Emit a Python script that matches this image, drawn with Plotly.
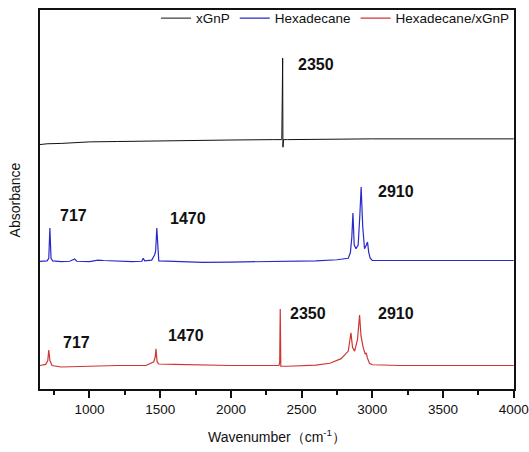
import plotly.graph_objects as go

# ---- data ----
xgnp_wn = [650, 700, 800, 900, 1000, 1200, 1500, 2000, 2300, 2360, 2366, 2368, 2372, 2400, 3000, 4000]
xgnp_ab = [0.645, 0.647, 0.648, 0.650, 0.652, 0.653, 0.655, 0.657, 0.658, 0.658, 0.873, 0.638, 0.658, 0.658, 0.660, 0.660]

hexa_wn = [650, 700, 712, 720, 728, 740, 800, 860, 895, 910, 1000, 1060, 1100, 1200, 1300, 1370, 1380, 1390,
           1440, 1462, 1468, 1476, 1482, 1490, 1600, 1700, 1800, 2000, 2200, 2400, 2600, 2750, 2830, 2845,
           2855, 2863, 2872, 2885, 2900, 2912, 2921, 2932, 2945, 2958, 2966, 2975, 2985, 3000, 3300, 3600, 4000]
hexa_ab = [0.337, 0.338, 0.345, 0.425, 0.345, 0.338, 0.336, 0.337, 0.343, 0.337, 0.336, 0.340, 0.339, 0.337,
           0.336, 0.337, 0.345, 0.338, 0.340, 0.355, 0.365, 0.425, 0.370, 0.338, 0.337, 0.336, 0.334, 0.335,
           0.336, 0.337, 0.338, 0.341, 0.345, 0.360, 0.400, 0.464, 0.380, 0.370, 0.380, 0.460, 0.533, 0.430,
           0.370, 0.380, 0.388, 0.360, 0.345, 0.339, 0.339, 0.338, 0.339]

mix_wn = [650, 690, 705, 712, 720, 735, 800, 1000, 1200, 1400, 1455, 1465, 1470, 1478, 1490, 1600, 1800,
          2000, 2200, 2340, 2345, 2349, 2353, 2400, 2600, 2700, 2780, 2830, 2849, 2860, 2875, 2895, 2910,
          2920, 2935, 2950, 2957, 2965, 2980, 3000, 3200, 4000]
mix_ab = [0.062, 0.065, 0.075, 0.103, 0.075, 0.062, 0.058, 0.060, 0.062, 0.062, 0.072, 0.085, 0.106, 0.072,
          0.066, 0.065, 0.063, 0.062, 0.062, 0.062, 0.070, 0.211, 0.060, 0.060, 0.063, 0.068, 0.080, 0.100,
          0.148, 0.110, 0.100, 0.130, 0.195, 0.140, 0.110, 0.092, 0.095, 0.082, 0.068, 0.064, 0.062, 0.062]

# peak labels: (text, x, y)
labels = [("2350", 2603, 0.855), ("717", 885, 0.459), ("1470", 1698, 0.451), ("2910", 3167, 0.520),
          ("717", 905, 0.124), ("1470", 1684, 0.142), ("2350", 2547, 0.200), ("2910", 3167, 0.198)]

x_ticks = [1000, 1500, 2000, 2500, 3000, 3500, 4000]

fig = go.Figure()
fig.add_trace(go.Scatter(x=xgnp_wn, y=xgnp_ab, mode="lines", name="xGnP",
                         line=dict(color="#111111", width=1)))
fig.add_trace(go.Scatter(x=hexa_wn, y=hexa_ab, mode="lines", name="Hexadecane",
                         line=dict(color="#2a2ac8", width=1.2)))
fig.add_trace(go.Scatter(x=mix_wn, y=mix_ab, mode="lines", name="Hexadecane/xGnP",
                         line=dict(color="#d03535", width=1.2)))

for t, x, y in labels:
    fig.add_annotation(x=x, y=y, text="<b>%s</b>" % t, showarrow=False,
                       font=dict(family="Liberation Sans, Arial", size=16, color="#111111"))

# y-axis title placed as rotated text left of the frame
fig.add_annotation(x=-0.053, y=0.5, xref="paper", yref="paper", text="Absorbance", textangle=-90,
                   showarrow=False, xanchor="center", yanchor="middle",
                   font=dict(family="Liberation Sans, Arial", size=14, color="#111111"))

fig.update_layout(
    width=529, height=452,
    margin=dict(l=40, r=15, t=10, b=63, autoexpand=False),
    paper_bgcolor="white", plot_bgcolor="white",
    font=dict(family="Liberation Sans, Arial", size=13, color="#111111"),
    showlegend=True,
    legend=dict(orientation="h", x=1.0, xanchor="right", y=0.978, yanchor="middle",
                bgcolor="rgba(0,0,0,0)", font=dict(size=13.5), tracegroupgap=0,
                itemwidth=30),
    xaxis=dict(range=[650, 4002], tickvals=x_ticks, ticks="outside", ticklen=7, tickwidth=1.5,
               tickcolor="#111111", showline=True, linecolor="#111111", linewidth=1.5, mirror=True,
               showgrid=False, zeroline=False, tickfont=dict(size=13.5), automargin=False,
               minor=dict(tickvals=[750, 1250, 1750, 2250, 2750, 3250, 3750], ticks="outside", ticklen=4,
                          tickwidth=1.5, tickcolor="#111111"),
               title=dict(text="Wavenumber（cm<sup>-1</sup>）", font=dict(size=14), standoff=16)),
    yaxis=dict(range=[0, 1], showticklabels=False, ticks="", showline=True, linecolor="#111111",
               linewidth=1.5, mirror=True, showgrid=False, zeroline=False, automargin=False),
)

fig.write_html("out.html")
